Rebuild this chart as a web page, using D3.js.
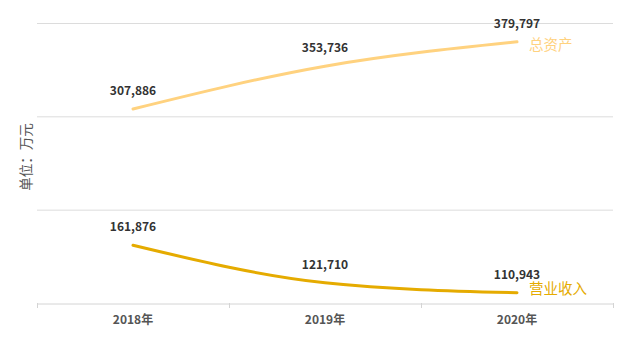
<!DOCTYPE html>
<html><head><meta charset="utf-8">
<script src="https://cdn.jsdelivr.net/npm/d3@7"></script>
<style>body{margin:0;background:#fff}svg{display:block}text{font-family:"Noto Sans CJK SC","Open Sans",sans-serif}</style>
</head><body><svg id="c" width="628" height="340"></svg>
<script>
const categories = ["2018年","2019年","2020年"];
const totalAssets = [307886, 353736, 379797];
const revenue = [161876, 121710, 110943];
const seriesNames = ["总资产","营业收入"];
const yTicks = [100000, 200000, 300000, 400000];
const yLabel = "单位：万元";

const svg = d3.select("#c");
const x = d3.scaleBand().domain(categories).range([37, 613]);
const y = d3.scaleLinear().domain([100000, 400000]).range([303, 23]);
const cx = d => x(d) + x.bandwidth() / 2;

// grid
svg.append("g").selectAll("line").data(yTicks.slice(1)).join("line")
  .attr("x1", 37).attr("x2", 613).attr("y1", d => y(d) + 0.5).attr("y2", d => y(d) + 0.5)
  .attr("stroke", "#dcdcdc").attr("stroke-width", 1);

// x axis
const xa = svg.append("g").attr("transform", "translate(0,303.5)")
  .call(d3.axisBottom(x).tickSize(0).tickPadding(12));
xa.select(".domain").attr("stroke", "#d4d4d4");
xa.selectAll("text").attr("font-size", 12).attr("font-weight", "bold").attr("fill", "#555");
const bounds = [37].concat(categories.map(c => x(c) + x.bandwidth()));
svg.append("g").selectAll("line").data(bounds).join("line")
  .attr("x1", d => d + 0.5).attr("x2", d => d + 0.5).attr("y1", 303).attr("y2", 308)
  .attr("stroke", "#d4d4d4");

// y label
svg.append("text").attr("transform", "translate(31,157) rotate(-90)")
  .attr("text-anchor", "middle").attr("font-size", 13.5).attr("fill", "#555").text(yLabel);

const line = d3.line().x((d, i) => cx(categories[i])).y(d => y(d)).curve(d3.curveMonotoneX);
const series = [
  {name: seriesNames[0], values: totalAssets, color: "#ffd27f", dy: 4.5},
  {name: seriesNames[1], values: revenue, color: "#e5ab00", dy: -3}
];
series.forEach(s => {
  svg.append("path").attr("d", line(s.values)).attr("fill", "none")
    .attr("stroke", s.color).attr("stroke-width", 3).attr("stroke-linecap", "round");
  svg.append("g").selectAll("text").data(s.values).join("text")
    .attr("x", (d, i) => cx(categories[i])).attr("y", d => y(d) - 14)
    .attr("text-anchor", "middle").attr("font-size", 12).attr("font-weight", "bold")
    .attr("fill", "#333").text(d => d3.format(",")(d));
  const last = s.values[s.values.length - 1];
  svg.append("text").attr("x", cx(categories[2]) + 12).attr("y", y(last) + s.dy)
    .attr("dominant-baseline", "middle").attr("font-size", 14.5).attr("fill", s.color).text(s.name);
});
</script></body></html>
